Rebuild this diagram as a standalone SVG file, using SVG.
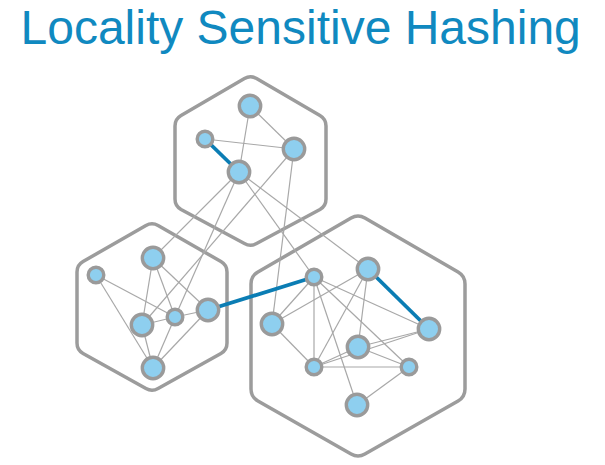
<svg xmlns="http://www.w3.org/2000/svg" width="605" height="465" viewBox="0 0 605 465">
<style>
.title{font-family:"Liberation Sans",Arial,sans-serif;font-size:48px;fill:#1089c0}
.hex{fill:none;stroke:#9c9c9c;stroke-width:3.5;stroke-linejoin:round}
.e{stroke:#a8a8a8;stroke-width:1.2;fill:none}
.b{stroke:#0b7db4;stroke-width:3.8;fill:none}
.n{fill:#8ecfef;stroke:#9a9a9a;stroke-width:3.4}
</style>
<rect width="605" height="465" fill="#ffffff"/>
<text class="title" x="20.5" y="43.5">Locality Sensitive Hashing</text>
<g id="hexagons">
<path id="hex-top" class="hex" d="M256.55,78.52 L319.95,115.48 Q326,119 326,126 L326,199 Q326,206 319.95,209.52 L256.55,243.48 Q250.5,247 244.45,243.48 L181.05,209.52 Q175,206 175,199 L175,126 Q175,119 181.05,115.48 L244.45,78.52 Q250.5,75 256.55,78.52 Z"/>
<path id="hex-left" class="hex" d="M158.07,225.48 L220.93,261.52 Q227,265 227,272 L227,343 Q227,350 220.93,353.48 L158.07,388.52 Q152,392 145.93,388.52 L83.07,353.48 Q77,350 77,343 L77,272 Q77,265 83.07,261.52 L145.930,225.48 Q152,222 158.07,225.48 Z"/>
<path id="hex-right" class="hex" d="M364.92,218.01 L458.08,271.99 Q465,276 465,284 L465,389 Q465,397 458.08,401.01 L364.92,453.99 Q358,458 351.08,453.99 L257.92,401.01 Q251,397 251,389 L251,284 Q251,276 257.92,271.99 L351.08,218.01 Q358,214 364.92,218.01 Z"/>
</g>
<g id="connectors">
<line class="e" x1="250" y1="106" x2="239" y2="172"/>
<line class="e" x1="250" y1="106" x2="294" y2="149"/>
<line class="e" x1="205" y1="139" x2="294" y2="149"/>
<line class="e" x1="239" y1="172" x2="153" y2="258"/>
<line class="e" x1="239" y1="172" x2="175" y2="317"/>
<line class="e" x1="239" y1="172" x2="368" y2="269"/>
<line class="e" x1="239" y1="172" x2="314" y2="277"/>
<line class="e" x1="294" y1="149" x2="142" y2="325"/>
<line class="e" x1="294" y1="149" x2="272" y2="324"/>
<line class="e" x1="96" y1="275" x2="175" y2="317"/>
<line class="e" x1="96" y1="275" x2="153" y2="368"/>
<line class="e" x1="153" y1="258" x2="142" y2="325"/>
<line class="e" x1="153" y1="258" x2="175" y2="317"/>
<line class="e" x1="153" y1="258" x2="208" y2="310"/>
<line class="e" x1="142" y1="325" x2="175" y2="317"/>
<line class="e" x1="175" y1="317" x2="208" y2="310"/>
<line class="e" x1="142" y1="325" x2="153" y2="368"/>
<line class="e" x1="175" y1="317" x2="153" y2="368"/>
<line class="e" x1="208" y1="310" x2="153" y2="368"/>
<line class="e" x1="314" y1="277" x2="272" y2="324"/>
<line class="e" x1="314" y1="277" x2="314" y2="367"/>
<line class="e" x1="314" y1="277" x2="357" y2="405"/>
<line class="e" x1="314" y1="277" x2="409" y2="367"/>
<line class="e" x1="314" y1="277" x2="429" y2="329"/>
<line class="e" x1="368" y1="269" x2="272" y2="324"/>
<line class="e" x1="368" y1="269" x2="314" y2="367"/>
<line class="e" x1="368" y1="269" x2="358" y2="347"/>
<line class="e" x1="272" y1="324" x2="314" y2="367"/>
<line class="e" x1="314" y1="367" x2="358" y2="347"/>
<line class="e" x1="314" y1="367" x2="429" y2="329"/>
<line class="e" x1="358" y1="347" x2="429" y2="329"/>
<line class="e" x1="358" y1="347" x2="409" y2="367"/>
<line class="e" x1="314" y1="367" x2="409" y2="367"/>
<line class="e" x1="409" y1="367" x2="357" y2="405"/>
<line class="b" x1="205" y1="139" x2="239" y2="172"/>
<line class="b" x1="208" y1="310" x2="314" y2="277"/>
<line class="b" x1="368" y1="269" x2="429" y2="329"/>
</g>
<g id="node-A"><circle class="n" cx="250" cy="106" r="10.7"/></g>
<g id="node-B"><circle class="n" cx="205" cy="139" r="7.8"/></g>
<g id="node-C"><circle class="n" cx="294" cy="149" r="10.7"/></g>
<g id="node-D"><circle class="n" cx="239" cy="172" r="10.7"/></g>
<g id="node-E"><circle class="n" cx="96" cy="275" r="7.8"/></g>
<g id="node-F"><circle class="n" cx="153" cy="258" r="10.7"/></g>
<g id="node-G"><circle class="n" cx="142" cy="325" r="10.7"/></g>
<g id="node-H"><circle class="n" cx="175" cy="317" r="7.8"/></g>
<g id="node-I"><circle class="n" cx="208" cy="310" r="10.7"/></g>
<g id="node-J"><circle class="n" cx="153" cy="368" r="10.7"/></g>
<g id="node-K"><circle class="n" cx="314" cy="277" r="7.8"/></g>
<g id="node-L"><circle class="n" cx="368" cy="269" r="10.7"/></g>
<g id="node-M"><circle class="n" cx="272" cy="324" r="10.7"/></g>
<g id="node-N"><circle class="n" cx="429" cy="329" r="10.7"/></g>
<g id="node-O"><circle class="n" cx="358" cy="347" r="10.7"/></g>
<g id="node-P"><circle class="n" cx="314" cy="367" r="7.8"/></g>
<g id="node-Q"><circle class="n" cx="409" cy="367" r="7.8"/></g>
<g id="node-R"><circle class="n" cx="357" cy="405" r="10.7"/></g>
</svg>
